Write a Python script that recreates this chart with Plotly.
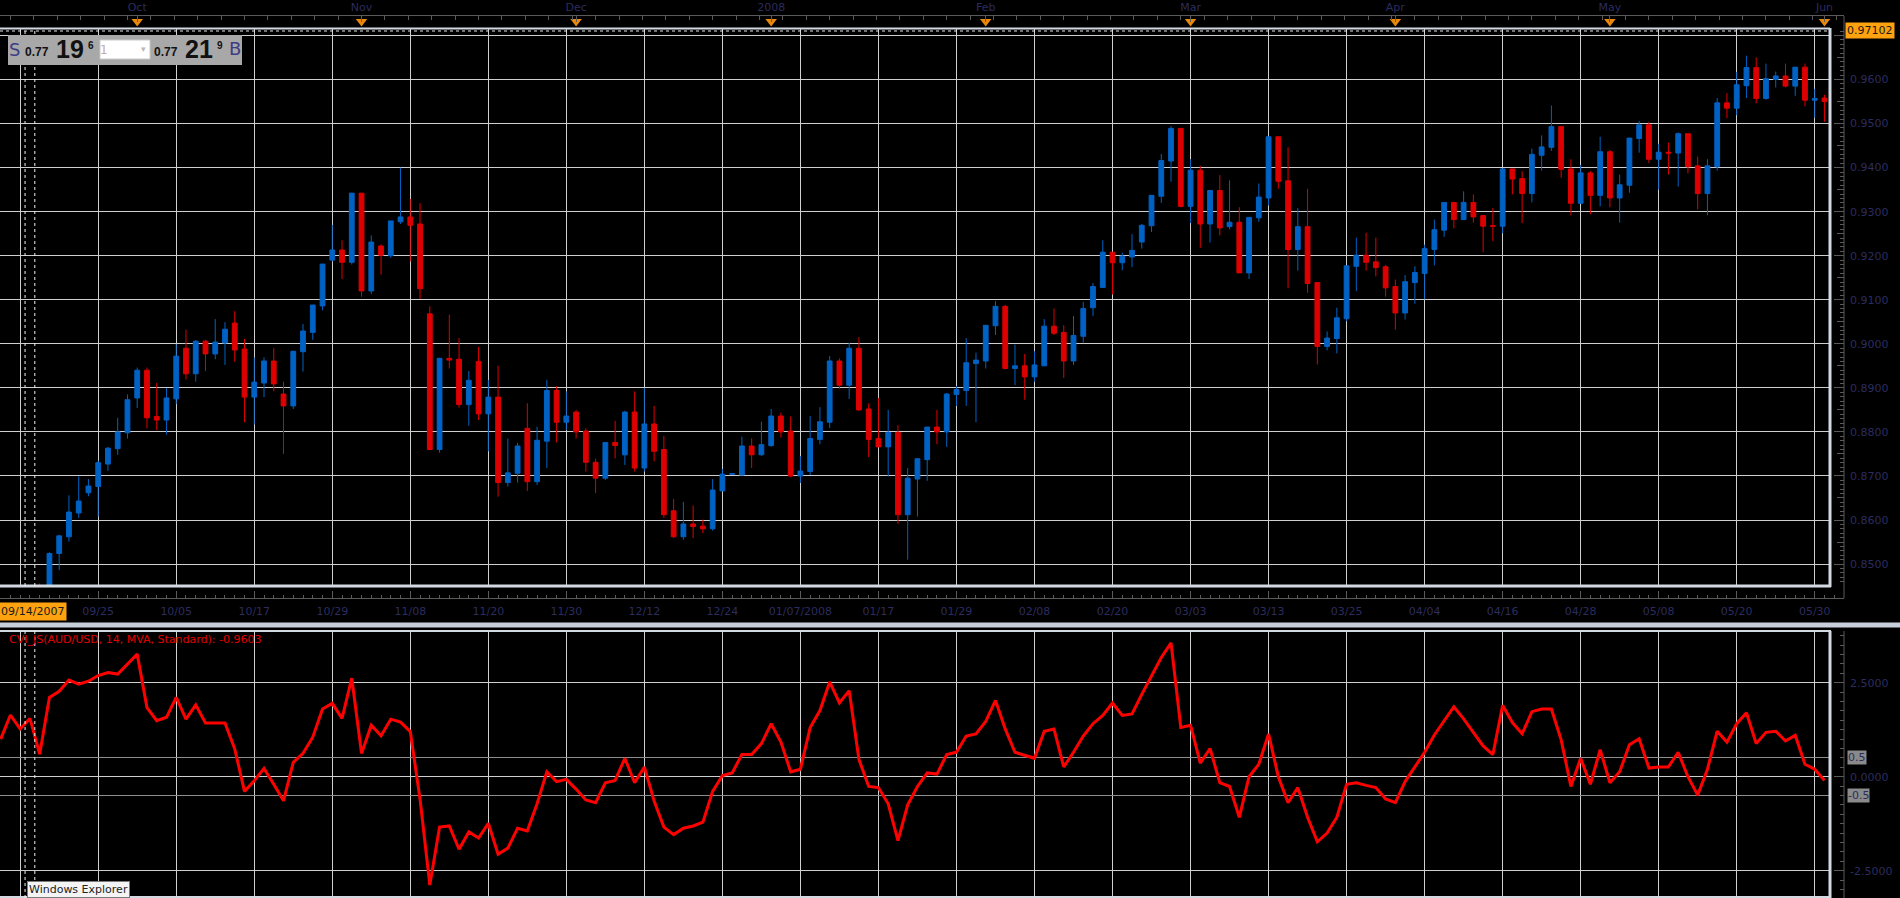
import plotly.graph_objects as go

# ---------------- data ----------------
# daily AUD/USD bars, 2007-09-11 .. 2008-06-02 (weekdays, no 12/25, 01/01)
opens = [0.8300, 0.8320, 0.8340, 0.8390, 0.8445, 0.8400, 0.8524, 0.8562, 0.8616, 0.8662,
         0.8676, 0.8727, 0.8762, 0.8798, 0.8877, 0.8940, 0.8835, 0.8827, 0.8875, 0.8990,
         0.8932, 0.9006, 0.8977, 0.9002, 0.9047, 0.8988, 0.8879, 0.8911, 0.8961, 0.8886,
         0.8859, 0.8982, 0.9026, 0.9086, 0.9190, 0.9213, 0.9185, 0.9342, 0.9120, 0.9222,
         0.9200, 0.9277, 0.9288, 0.9272, 0.9068, 0.8760, 0.8967, 0.8965, 0.8862, 0.8960,
         0.8841, 0.8879, 0.8685, 0.8706, 0.8808, 0.8687, 0.8779, 0.8894, 0.8822, 0.8845,
         0.8802, 0.8731, 0.8695, 0.8776, 0.8748, 0.8845, 0.8718, 0.8818, 0.8760, 0.8621,
         0.8562, 0.8591, 0.8586, 0.8580, 0.8666, 0.8704, 0.8702, 0.8768, 0.8748, 0.8769,
         0.8836, 0.8802, 0.8700, 0.8710, 0.8783, 0.8822, 0.8961, 0.8906, 0.8990, 0.8852,
         0.8785, 0.8766, 0.8799, 0.8612, 0.8693, 0.8737, 0.8811, 0.8800, 0.8885, 0.8894,
         0.8955, 0.8961, 0.9041, 0.9085, 0.8944, 0.8950, 0.8925, 0.8950, 0.9040, 0.9026,
         0.8961, 0.9017, 0.9082, 0.9128, 0.9208, 0.9184, 0.9197, 0.9231, 0.9268, 0.9335,
         0.9415, 0.9489, 0.9312, 0.9394, 0.9272, 0.9348, 0.9266, 0.9276, 0.9161, 0.9286,
         0.9331, 0.9470, 0.9370, 0.9214, 0.9266, 0.9139, 0.8994, 0.9012, 0.9057, 0.9176,
         0.9201, 0.9186, 0.9175, 0.9130, 0.9070, 0.9139, 0.9160, 0.9214, 0.9258, 0.9321,
         0.9282, 0.9321, 0.9291, 0.9268, 0.9267, 0.9397, 0.9375, 0.9341, 0.9428, 0.9446,
         0.9493, 0.9397, 0.9319, 0.9388, 0.9337, 0.9436, 0.9331, 0.9360, 0.9466, 0.9497,
         0.9419, 0.9435, 0.9433, 0.9477, 0.9404, 0.9341, 0.9402, 0.9547, 0.9535, 0.9586,
         0.9627, 0.9557, 0.9600, 0.9608, 0.9585, 0.9628, 0.9553, 0.9558]
highs = [0.8330, 0.8350, 0.8400, 0.8430, 0.8456, 0.8527, 0.8566, 0.8656, 0.8699, 0.8693,
         0.8735, 0.8766, 0.8832, 0.8885, 0.8946, 0.8946, 0.8911, 0.8900, 0.8999, 0.9032,
         0.9008, 0.9009, 0.9056, 0.9049, 0.9074, 0.9011, 0.8969, 0.8969, 0.8990, 0.8914,
         0.8984, 0.9045, 0.9088, 0.9181, 0.9270, 0.9235, 0.9342, 0.9342, 0.9246, 0.9226,
         0.9279, 0.9400, 0.9329, 0.9319, 0.9085, 0.8968, 0.9066, 0.9013, 0.8938, 0.8993,
         0.8918, 0.8950, 0.8785, 0.8775, 0.8865, 0.8812, 0.8918, 0.8904, 0.8892, 0.8850,
         0.8808, 0.8739, 0.8776, 0.8825, 0.8848, 0.8892, 0.8900, 0.8859, 0.8791, 0.8648,
         0.8641, 0.8633, 0.8601, 0.8693, 0.8716, 0.8706, 0.8789, 0.8785, 0.8823, 0.8852,
         0.8844, 0.8835, 0.8745, 0.8836, 0.8856, 0.8972, 0.8967, 0.9002, 0.9015, 0.8865,
         0.8877, 0.8850, 0.8815, 0.8718, 0.8740, 0.8811, 0.8850, 0.8888, 0.8904, 0.9013,
         0.8980, 0.9042, 0.9097, 0.9088, 0.8998, 0.8977, 0.8983, 0.9056, 0.9080, 0.9042,
         0.9063, 0.9095, 0.9138, 0.9235, 0.9208, 0.9207, 0.9249, 0.9272, 0.9337, 0.9431,
         0.9494, 0.9489, 0.9419, 0.9404, 0.9348, 0.9383, 0.9371, 0.9310, 0.9287, 0.9364,
         0.9470, 0.9470, 0.9446, 0.9308, 0.9352, 0.9139, 0.9028, 0.9082, 0.9177, 0.9241,
         0.9252, 0.9241, 0.9179, 0.9146, 0.9156, 0.9176, 0.9225, 0.9282, 0.9321, 0.9321,
         0.9346, 0.9339, 0.9291, 0.9308, 0.9397, 0.9397, 0.9392, 0.9443, 0.9473, 0.9541,
         0.9495, 0.9419, 0.9406, 0.9392, 0.9470, 0.9440, 0.9384, 0.9467, 0.9506, 0.9504,
         0.9454, 0.9457, 0.9480, 0.9477, 0.9425, 0.9419, 0.9558, 0.9569, 0.9617, 0.9654,
         0.9650, 0.9636, 0.9618, 0.9636, 0.9628, 0.9636, 0.9579, 0.9565]
lows = [0.8280, 0.8300, 0.8330, 0.8370, 0.8380, 0.8395, 0.8486, 0.8551, 0.8605, 0.8654,
        0.8608, 0.8712, 0.8748, 0.8785, 0.8854, 0.8808, 0.8804, 0.8794, 0.8863, 0.8919,
        0.8914, 0.8938, 0.8965, 0.8952, 0.8959, 0.8822, 0.8817, 0.8879, 0.8892, 0.8750,
        0.8852, 0.8937, 0.9009, 0.9076, 0.9187, 0.9147, 0.9180, 0.9107, 0.9113, 0.9157,
        0.9195, 0.9272, 0.9187, 0.9102, 0.8759, 0.8753, 0.8944, 0.8855, 0.8814, 0.8827,
        0.8756, 0.8653, 0.8676, 0.8685, 0.8666, 0.8680, 0.8718, 0.8776, 0.8804, 0.8785,
        0.8710, 0.8661, 0.8691, 0.8740, 0.8725, 0.8710, 0.8710, 0.8733, 0.8605, 0.8559,
        0.8555, 0.8559, 0.8570, 0.8576, 0.8666, 0.8703, 0.8702, 0.8718, 0.8746, 0.8766,
        0.8787, 0.8697, 0.8684, 0.8702, 0.8772, 0.8809, 0.8898, 0.8875, 0.8848, 0.8743,
        0.8766, 0.8699, 0.8591, 0.8510, 0.8608, 0.8689, 0.8772, 0.8766, 0.8859, 0.8859,
        0.8822, 0.8944, 0.9020, 0.8942, 0.8906, 0.8873, 0.8914, 0.8950, 0.9020, 0.8923,
        0.8952, 0.9003, 0.9063, 0.9128, 0.9112, 0.9167, 0.9174, 0.9216, 0.9254, 0.9320,
        0.9368, 0.9310, 0.9274, 0.9218, 0.9230, 0.9246, 0.9260, 0.9161, 0.9147, 0.9277,
        0.9314, 0.9352, 0.9126, 0.9166, 0.9116, 0.8953, 0.8985, 0.8978, 0.9051, 0.9120,
        0.9166, 0.9153, 0.9107, 0.9032, 0.9055, 0.9091, 0.9101, 0.9178, 0.9243, 0.9262,
        0.9282, 0.9275, 0.9208, 0.9233, 0.9251, 0.9339, 0.9274, 0.9321, 0.9393, 0.9438,
        0.9377, 0.9292, 0.9319, 0.9294, 0.9312, 0.9310, 0.9275, 0.9343, 0.9434, 0.9410,
        0.9350, 0.9384, 0.9357, 0.9387, 0.9305, 0.9292, 0.9393, 0.9512, 0.9519, 0.9558,
        0.9546, 0.9554, 0.9582, 0.9582, 0.9563, 0.9539, 0.9513, 0.9504]
closes = [0.8320, 0.8340, 0.8390, 0.8420, 0.8400, 0.8524, 0.8564, 0.8618, 0.8643, 0.8677,
          0.8730, 0.8763, 0.8800, 0.8873, 0.8940, 0.8832, 0.8827, 0.8877, 0.8972, 0.8932,
          0.9006, 0.8977, 0.9004, 0.9033, 0.8986, 0.8879, 0.8913, 0.8961, 0.8909, 0.8859,
          0.8983, 0.9029, 0.9088, 0.9181, 0.9213, 0.9185, 0.9342, 0.9120, 0.9231, 0.9201,
          0.9279, 0.9288, 0.9269, 0.9125, 0.8760, 0.8967, 0.8963, 0.8862, 0.8917, 0.8841,
          0.8879, 0.8685, 0.8707, 0.8768, 0.8687, 0.8781, 0.8894, 0.8822, 0.8836, 0.8800,
          0.8731, 0.8695, 0.8776, 0.8769, 0.8845, 0.8718, 0.8818, 0.8756, 0.8612, 0.8562,
          0.8591, 0.8585, 0.8580, 0.8668, 0.8704, 0.8705, 0.8768, 0.8748, 0.8771, 0.8836,
          0.8800, 0.8700, 0.8711, 0.8785, 0.8823, 0.8961, 0.8906, 0.8990, 0.8850, 0.8783,
          0.8766, 0.8799, 0.8612, 0.8695, 0.8739, 0.8811, 0.8800, 0.8886, 0.8896, 0.8957,
          0.8963, 0.9042, 0.9085, 0.8944, 0.8950, 0.8925, 0.8952, 0.9040, 0.9024, 0.8961,
          0.9019, 0.9080, 0.9130, 0.9208, 0.9184, 0.9199, 0.9212, 0.9269, 0.9337, 0.9416,
          0.9489, 0.9312, 0.9394, 0.9272, 0.9348, 0.9263, 0.9276, 0.9161, 0.9287, 0.9333,
          0.9470, 0.9369, 0.9214, 0.9266, 0.9137, 0.8994, 0.9013, 0.9059, 0.9177, 0.9201,
          0.9185, 0.9173, 0.9127, 0.9070, 0.9141, 0.9162, 0.9216, 0.9259, 0.9321, 0.9282,
          0.9321, 0.9288, 0.9267, 0.9267, 0.9397, 0.9374, 0.9341, 0.9430, 0.9447, 0.9493,
          0.9396, 0.9319, 0.9388, 0.9337, 0.9436, 0.9331, 0.9361, 0.9467, 0.9497, 0.9419,
          0.9435, 0.9433, 0.9477, 0.9402, 0.9341, 0.9404, 0.9547, 0.9535, 0.9588, 0.9627,
          0.9557, 0.9602, 0.9608, 0.9585, 0.9628, 0.9553, 0.9557, 0.9550]
cvi = [1.00, 1.64, 1.27, 1.55, 0.60, 2.11, 2.27, 2.57, 2.46, 2.54,
       2.69, 2.77, 2.73, 3.00, 3.26, 1.84, 1.49, 1.58, 2.11, 1.53,
       1.91, 1.43, 1.43, 1.43, 0.74, -0.39, -0.11, 0.22, -0.20, -0.64,
       0.38, 0.62, 1.05, 1.80, 1.95, 1.55, 2.62, 0.62, 1.37, 1.09,
       1.53, 1.45, 1.20, -0.60, -2.88, -1.34, -1.31, -1.93, -1.47, -1.63,
       -1.24, -2.06, -1.90, -1.37, -1.44, -0.72, 0.13, -0.13, -0.07, -0.33,
       -0.62, -0.69, -0.16, -0.10, 0.49, -0.16, 0.26, -0.65, -1.34, -1.54,
       -1.37, -1.31, -1.21, -0.39, 0.03, 0.10, 0.59, 0.59, 0.88, 1.41,
       0.92, 0.13, 0.20, 1.31, 1.76, 2.52, 1.96, 2.29, 0.46, -0.26,
       -0.29, -0.72, -1.70, -0.75, -0.26, 0.10, 0.07, 0.59, 0.65, 1.08,
       1.14, 1.47, 2.03, 1.27, 0.65, 0.56, 0.49, 1.21, 1.27, 0.26,
       0.65, 1.08, 1.41, 1.63, 1.96, 1.63, 1.67, 2.19, 2.68, 3.17,
       3.56, 1.31, 1.37, 0.36, 0.75, -0.16, -0.26, -1.08, 0.00, 0.33,
       1.14, 0.00, -0.69, -0.29, -1.08, -1.73, -1.50, -1.08, -0.20, -0.16,
       -0.23, -0.29, -0.59, -0.69, -0.13, 0.26, 0.65, 1.11, 1.47, 1.86,
       1.54, 1.18, 0.82, 0.59, 1.90, 1.44, 1.14, 1.73, 1.80, 1.80,
       0.98, -0.26, 0.49, -0.20, 0.72, -0.16, 0.13, 0.85, 1.01, 0.23,
       0.26, 0.26, 0.65, 0.00, -0.49, 0.20, 1.21, 0.92, 1.41, 1.70,
       0.88, 1.18, 1.21, 0.95, 1.10, 0.33, 0.20, -0.10]

bar_pos = list(range(len(closes)))          # trading-day slot of every bar

date_labels = ["09/25", "10/05", "10/17", "10/29", "11/08", "11/20", "11/30", "12/12",
               "12/24", "01/07/2008", "01/17", "01/29", "02/08", "02/20", "03/03", "03/13",
               "03/25", "04/04", "04/16", "04/28", "05/08", "05/20", "05/30"]
date_label_pos = [10, 18, 26, 34, 42, 50, 58, 66, 74, 82, 90, 98, 106, 114, 122, 130,
                  138, 146, 154, 162, 170, 178, 186]
grid_pos = [2, 10, 18, 26, 34, 42, 50, 58, 66, 74, 82, 90, 98, 106, 114, 122, 130,
            138, 146, 154, 162, 170, 178, 186]
month_names = ["Oct", "Nov", "Dec", "2008", "Feb", "Mar", "Apr", "May", "Jun"]
month_pos = [14, 37, 59, 79, 101, 122, 143, 165, 187]
price_ticks = [0.85, 0.86, 0.87, 0.88, 0.89, 0.90, 0.91, 0.92, 0.93, 0.94, 0.95, 0.96, 0.97]
price_labels = ["0.8500", "0.8600", "0.8700", "0.8800", "0.8900", "0.9000", "0.9100",
                "0.9200", "0.9300", "0.9400", "0.9500", "0.9600", ""]   # 0.9700 hidden by marker
price_mid_ticks = [0.845, 0.855, 0.865, 0.875, 0.885, 0.895, 0.905, 0.915, 0.925,
                   0.935, 0.945, 0.955, 0.965]
cvi_ticks = [2.5, 0.0, -2.5]
cvi_labels = ["2.5000", "0.0000", "-2.5000"]
cvi_bands = [0.5, -0.5]
cvi_band_labels = ["0.5", "-0.5"]
cursor_pos = 3            # 09/14/2007
last_marker_value = 0.97102
cvi_title = "CVI_JS(AUD/USD, 14, MVA, Standard): -0.9603"

# ---------------- geometry (pixels) ----------------
W, H = 1900, 898
def px(x): return x / W
def py(y): return 1 - y / H

BAR = 9.753; P_REF = 10; X_REF = 98.2
def pos_at(xpix): return P_REF + (xpix - X_REF) / BAR
x_lo, x_hi, x_hi_axis = pos_at(0), pos_at(1830), pos_at(1844)

Y96, PPU = 79.5, 4405.0
p_top = 0.96 + (Y96 - 28) / PPU
p_bot = 0.96 - (585.7 - Y96) / PPU
Y0C, CPU = 776.7, 37.6
c_top = (Y0C - 631) / CPU
c_bot = -(897 - Y0C) / CPU

UP, DN = "#0062c4", "#de0000"
NAVY = "#2c2c5e"
GRID = "#cfcfcf"
AX = "#5a5a5a"
FRAME = "#d3d9e1"
FONT = "DejaVu Sans"

fig = go.Figure()

fig.add_trace(go.Candlestick(
    x=bar_pos, open=opens, high=highs, low=lows, close=closes,
    increasing=dict(line=dict(color=UP, width=1), fillcolor=UP),
    decreasing=dict(line=dict(color=DN, width=1), fillcolor=DN),
    whiskerwidth=0, xaxis="x", yaxis="y", hoverinfo="skip"))

fig.add_trace(go.Scatter(x=bar_pos, y=cvi, mode="lines",
                         line=dict(color="#ff0000", width=3),
                         xaxis="x2", yaxis="y2", hoverinfo="skip"))

fig.add_trace(go.Scatter(x=month_pos, y=[0.5] * len(month_pos), mode="markers",
                         marker=dict(symbol="triangle-down", size=10, color="#e8890c"),
                         xaxis="x3", yaxis="y3", hoverinfo="skip"))
# helpers that only carry axes
fig.add_trace(go.Scatter(x=[None], y=[None], xaxis="x4", yaxis="y4", showlegend=False))
fig.add_trace(go.Scatter(x=[None], y=[None], xaxis="x2", yaxis="y5", showlegend=False))
fig.add_trace(go.Scatter(x=[None], y=[None], xaxis="x", yaxis="y6", showlegend=False))

minor_y = dict(ticks="inside", ticklen=4, tickcolor=AX, showgrid=False)

fig.update_layout(
    width=W, height=H, margin=dict(l=0, r=0, t=0, b=0),
    paper_bgcolor="black", plot_bgcolor="black", showlegend=False,
    font=dict(family=FONT, size=11, color=NAVY),
    xaxis=dict(domain=[0, px(1830)], range=[x_lo, x_hi], anchor="y",
               tickmode="array", tickvals=grid_pos, showticklabels=False, ticks="",
               showgrid=True, gridcolor=GRID, gridwidth=1, zeroline=False,
               showline=False, rangeslider=dict(visible=False)),
    yaxis=dict(domain=[py(585.7), py(28)], range=[p_bot, p_top], anchor="free",
               position=px(1844), side="right", tickmode="array",
               tickvals=price_ticks, ticktext=price_labels, ticks="inside", ticklen=10,
               tickcolor=AX, showgrid=True, gridcolor=GRID, gridwidth=1,
               zeroline=False, showline=False, ticklabelstandoff=5,
               tickfont=dict(family=FONT, size=11, color=NAVY),
               minor=dict(tickmode="linear", tick0=0.85, dtick=0.001, **minor_y)),
    yaxis6=dict(overlaying="y", range=[p_bot, p_top], anchor="free", position=px(1844),
                side="right", tickmode="array", tickvals=price_mid_ticks,
                showticklabels=False, ticks="inside", ticklen=7, tickcolor=AX,
                showgrid=False, zeroline=False, showline=False),
    xaxis2=dict(domain=[0, px(1830)], range=[x_lo, x_hi], anchor="y2",
                tickmode="array", tickvals=grid_pos, showticklabels=False, ticks="",
                showgrid=True, gridcolor=GRID, gridwidth=1, zeroline=False, showline=False),
    yaxis2=dict(domain=[py(897), py(631)], range=[c_bot, c_top], anchor="free",
                position=px(1844), side="right", tickmode="array", tickvals=cvi_ticks,
                ticktext=cvi_labels, ticks="inside", ticklen=10, tickcolor=AX,
                showgrid=True, gridcolor=GRID, gridwidth=1, zeroline=False,
                showline=False, ticklabelstandoff=5,
                tickfont=dict(family=FONT, size=11, color=NAVY),
                minor=dict(tickmode="linear", tick0=0, dtick=0.25, **minor_y)),
    yaxis5=dict(overlaying="y2", range=[c_bot, c_top], anchor="free", position=px(1844),
                side="right", tickmode="array", tickvals=cvi_bands, showticklabels=False,
                ticks="", showgrid=True, gridcolor="#8e8e8e", gridwidth=1,
                zeroline=False, showline=False),
    xaxis3=dict(domain=[0, px(1844)], range=[x_lo, x_hi_axis], anchor="y3", side="top",
                tickmode="array", tickvals=month_pos, ticktext=month_names,
                ticks="inside", ticklen=6, tickcolor=AX, showline=True, linecolor=AX,
                linewidth=1, showgrid=False, zeroline=False,
                tickfont=dict(family=FONT, size=11, color=NAVY),
                minor=dict(tickmode="linear", tick0=1.0, dtick=2.4, ticks="inside",
                           ticklen=4, tickcolor=AX, showgrid=False)),
    yaxis3=dict(domain=[py(27), py(16)], range=[0, 1], visible=False),
    xaxis4=dict(domain=[0, px(1844)], range=[x_lo, x_hi_axis], anchor="y4", side="bottom",
                tickmode="array", tickvals=date_label_pos, ticktext=date_labels,
                ticks="inside", ticklen=7, tickcolor=AX, showline=True, linecolor=AX,
                linewidth=1, showgrid=False, zeroline=False, ticklabelstandoff=3,
                tickfont=dict(family=FONT, size=11, color=NAVY),
                minor=dict(tickmode="linear", tick0=0, dtick=1, ticks="inside",
                           ticklen=3, tickcolor=AX, showgrid=False)),
    yaxis4=dict(domain=[py(598), py(590)], range=[0, 1], visible=False),
)

shapes = []
def pline(x0, y0, x1, y1, color, width, dash="solid"):
    shapes.append(dict(type="line", xref="paper", yref="paper", x0=px(x0), x1=px(x1),
                       y0=py(y0), y1=py(y1), line=dict(color=color, width=width, dash=dash)))
def prect(x0, y0, x1, y1, fill, line_color=None):
    shapes.append(dict(type="rect", xref="paper", yref="paper", x0=px(x0), x1=px(x1),
                       y0=py(y1), y1=py(y0), fillcolor=fill, layer="above",
                       line=dict(color=line_color or fill, width=1 if line_color else 0)))

# separator band between panels
prect(0, 622.5, 1900, 627.5, "#c7d0da")
# upper frame
pline(0, 28.5, 1830, 28.5, FRAME, 2)
pline(0, 31, 1830, 31, "#e6e6e6", 1, "dot")
pline(1830, 28, 1830, 587, FRAME, 3)
pline(0, 586, 1831, 586, FRAME, 3)
# lower frame
pline(0, 631, 1831, 631, FRAME, 2)
pline(1830, 631, 1830, 898, FRAME, 3)
pline(0, 897, 1831, 897, FRAME, 2)
# right axis lines
pline(1844, 16, 1844, 598, AX, 1)
pline(1844, 631, 1844, 898, AX, 1)
# crosshair at 09/14/2007
for dx in (-0.5, 0.5):
    for (ya, yb) in ((28, 586), (631, 898)):
        shapes.append(dict(type="line", xref="x", yref="paper",
                           x0=cursor_pos + dx, x1=cursor_pos + dx, y0=py(yb), y1=py(ya),
                           line=dict(color="#f2f2f2", width=1, dash="3px,3px")))
# quote box
prect(8, 35, 242, 65, "#a8a8a8")
prect(100, 40, 150, 59, "white", "#c9c9c9")
fig.update_layout(shapes=shapes)

ann = []
def txt(x, y, s, size, color, bold=False, family=FONT, xanchor="center", **kw):
    ann.append(dict(xref="paper", yref="paper", x=px(x), y=py(y), text=(f"<b>{s}</b>" if bold else s),
                    showarrow=False, xanchor=xanchor, yanchor="middle",
                    font=dict(family=family, size=size, color=color), **kw))

LS = "Liberation Sans"
txt(14, 49, "S", 18, "#3d3d86")
txt(37, 52, "0.77", 12, "#111111", True, LS)
txt(70, 49, "19", 25, "#111111", True, LS)
txt(91, 45, "6", 10, "#111111", True, LS)
txt(104, 49.5, "1", 12, "#c4a9a9")
txt(143, 49, "▾", 9, "#b8b8b8")
txt(166, 52, "0.77", 12, "#111111", True, LS)
txt(199, 49, "21", 25, "#111111", True, LS)
txt(219.5, 45, "9", 10, "#111111", True, LS)
txt(235, 48.5, "B", 18, "#3d3d86")

# last-value marker on price axis
ann.append(dict(xref="paper", yref="y", x=px(1845), y=last_marker_value, text="0.97102",
                showarrow=False, xanchor="left", yanchor="middle", bgcolor="#ffa210",
                borderpad=1, font=dict(family=FONT, size=11, color="#1a1a1a")))
# CVI band labels
for v, s in zip(cvi_bands, cvi_band_labels):
    ann.append(dict(xref="paper", yref="y2", x=px(1847), y=v, text=s, showarrow=False,
                    xanchor="left", yanchor="middle", bgcolor="#8a8a8a", borderpad=0,
                    font=dict(family=FONT, size=11, color=NAVY)))
# indicator title
txt(7, 639, cvi_title, 11, "#e00000", xanchor="left")
# cursor date
ann.append(dict(xref="paper", yref="paper", x=px(32), y=py(611), text="09/14/2007",
                showarrow=False, xanchor="center", yanchor="middle", bgcolor="#ffa210",
                borderpad=2, font=dict(family=FONT, size=11, color="#1a1a1a")))
# tooltip at the bottom edge of the window
ann.append(dict(xref="paper", yref="paper", x=px(27), y=py(897.5), text="Windows Explorer",
                showarrow=False, xanchor="left", yanchor="bottom", bgcolor="#f4f4f4",
                bordercolor="#7a7a7a", borderwidth=1, borderpad=1,
                font=dict(family=FONT, size=11, color="#222222")))
fig.update_layout(annotations=ann)

fig.write_html("out.html")
